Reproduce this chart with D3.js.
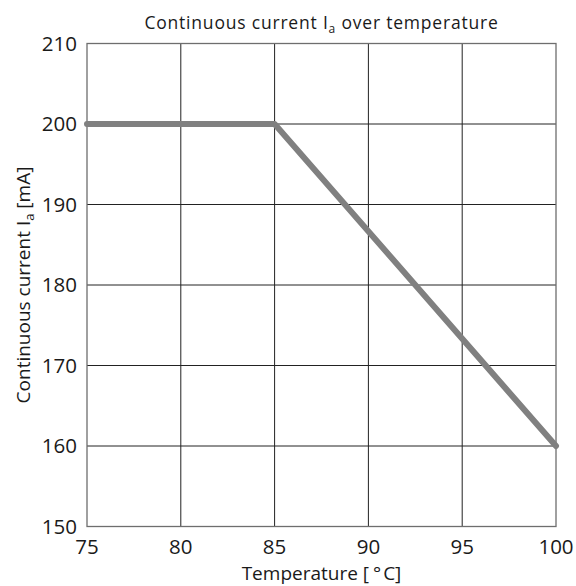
<!DOCTYPE html>
<html><head><meta charset="utf-8">
<script src="https://cdn.jsdelivr.net/npm/d3@7"></script>
<style>body{margin:0;background:#fff;} text{font-family:"Open Sans","Noto Sans",sans-serif;fill:#1a1a1a;}</style>
</head><body>
<svg id="c" width="576" height="586"></svg>
<script>
const xTicks = [75, 80, 85, 90, 95, 100];
const yTicks = [150, 160, 170, 180, 190, 200, 210];
const temperature = [75, 85, 100];
const current = [200, 200, 160];

const svg = d3.select("#c");
const L = 87, R = 556, T = 43.5, B = 526.5;
const x = d3.scaleLinear().domain([75, 100]).range([L, R]);
const y = d3.scaleLinear().domain([150, 210]).range([B, T]);

// grid
svg.append("g").selectAll("line").data(xTicks.slice(1, -1)).join("line")
  .attr("x1", d => x(d)).attr("x2", d => x(d)).attr("y1", T).attr("y2", B)
  .attr("stroke", "#222").attr("stroke-width", 1);
svg.append("g").selectAll("line").data(yTicks.slice(1, -1)).join("line")
  .attr("y1", d => y(d)).attr("y2", d => y(d)).attr("x1", L).attr("x2", R)
  .attr("stroke", "#222").attr("stroke-width", 1);
svg.append("rect").attr("x", L).attr("y", T).attr("width", R - L).attr("height", B - T)
  .attr("fill", "none").attr("stroke", "#6e6e6e").attr("stroke-width", 1.3);

// tick labels
svg.append("g").selectAll("text").data(yTicks).join("text")
  .attr("x", L - 10).attr("y", d => y(d) + 7).attr("text-anchor", "end")
  .attr("font-size", 20.5).text(d => d);
svg.append("g").selectAll("text").data(xTicks).join("text")
  .attr("x", d => x(d)).attr("y", 554).attr("text-anchor", "middle")
  .attr("font-size", 20.5).text(d => d);

// line
const pts = temperature.map((t, i) => [t, current[i]]);
svg.append("path").datum(pts)
  .attr("d", d3.line().x(d => x(d[0])).y(d => y(d[1])))
  .attr("fill", "none").attr("stroke", "#808080").attr("stroke-width", 6)
  .attr("stroke-linecap", "round").attr("stroke-linejoin", "round");

// titles
const title = svg.append("text").attr("x", (L + R) / 2).attr("y", 29)
  .attr("text-anchor", "middle").attr("font-size", 17.5).attr("letter-spacing", 0.8);
title.append("tspan").text("Continuous current I");
title.append("tspan").attr("font-size", 12).attr("dy", 4).text("a");
title.append("tspan").attr("dy", -4).text(" over temperature");

const xt = svg.append("text").attr("x", (L + R) / 2).attr("y", 580)
  .attr("text-anchor", "middle").attr("font-size", 19);
xt.append("tspan").text("Temperature [");
xt.append("tspan").attr("dx", 4).text("°");
xt.append("tspan").attr("dx", 2).text("C]");

const yt = svg.append("text").attr("transform", `translate(30,${(T + B) / 2}) rotate(-90)`)
  .attr("text-anchor", "middle").attr("font-size", 19);
yt.append("tspan").text("Continuous current I");
yt.append("tspan").attr("font-size", 13).attr("dy", 4).text("a");
yt.append("tspan").attr("dy", -4).text(" [mA]");
</script>
</body></html>
